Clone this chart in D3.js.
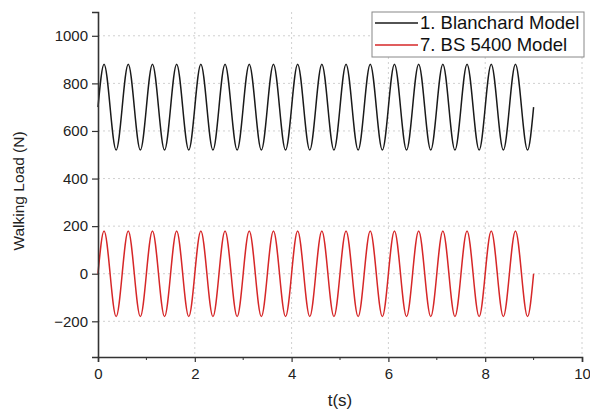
<!DOCTYPE html>
<html>
<head>
<meta charset="utf-8">
<script src="https://cdn.jsdelivr.net/npm/d3@7"></script>
<style>
  body { margin: 0; background: #fff; }
  text { font-family: "Liberation Sans", Arial, sans-serif; }
</style>
</head>
<body>
<div id="chart"></div>
<script>
var time = [
  0,0.125,0.25,0.375,0.5,0.625,0.75,0.875,
  1,1.125,1.25,1.375,1.5,1.625,1.75,1.875,
  2,2.125,2.25,2.375,2.5,2.625,2.75,2.875,
  3,3.125,3.25,3.375,3.5,3.625,3.75,3.875,
  4,4.125,4.25,4.375,4.5,4.625,4.75,4.875,
  5,5.125,5.25,5.375,5.5,5.625,5.75,5.875,
  6,6.125,6.25,6.375,6.5,6.625,6.75,6.875,
  7,7.125,7.25,7.375,7.5,7.625,7.75,7.875,
  8,8.125,8.25,8.375,8.5,8.625,8.75,8.875,
  9
];
var blanchard = [
  700,880,700,520,700,880,700,520,
  700,880,700,520,700,880,700,520,
  700,880,700,520,700,880,700,520,
  700,880,700,520,700,880,700,520,
  700,880,700,520,700,880,700,520,
  700,880,700,520,700,880,700,520,
  700,880,700,520,700,880,700,520,
  700,880,700,520,700,880,700,520,
  700,880,700,520,700,880,700,520,
  700
];
var bs5400 = [
  0,180,0,-180,0,180,0,-180,
  0,180,0,-180,0,180,0,-180,
  0,180,0,-180,0,180,0,-180,
  0,180,0,-180,0,180,0,-180,
  0,180,0,-180,0,180,0,-180,
  0,180,0,-180,0,180,0,-180,
  0,180,0,-180,0,180,0,-180,
  0,180,0,-180,0,180,0,-180,
  0,180,0,-180,0,180,0,-180,
  0
];
var seriesNames = ["1. Blanchard Model", "7. BS 5400 Model"];
var seriesColors = ["#1a1a1a", "#d62728"];
var xTicks = [0, 2, 4, 6, 8, 10];
var xMinor = [1, 3, 5, 7, 9];
var yTicks = [-200, 0, 200, 400, 600, 800, 1000];

var margin = {top: 12, right: 8, bottom: 55, left: 98},
    width = 590 - margin.left - margin.right,
    height = 412 - margin.top - margin.bottom;

var svg = d3.select("#chart")
  .append("svg")
  .attr("width", 590)
  .attr("height", 412)
  .append("g")
  .attr("transform", "translate(" + margin.left + "," + margin.top + ")");

var x = d3.scaleLinear().domain([0, 10]).range([0, 484]);
var y = d3.scaleLinear().domain([-350, 1100]).range([height, 0]);

// grid
svg.append("g")
  .selectAll("line.hg")
  .data(yTicks)
  .enter().append("line")
  .attr("x1", 0).attr("x2", 484)
  .attr("y1", function(d) { return y(d); })
  .attr("y2", function(d) { return y(d); })
  .attr("stroke", "#d0d0d0")
  .attr("stroke-dasharray", "2,3");

svg.append("g")
  .selectAll("line.vg")
  .data(xTicks.slice(1))
  .enter().append("line")
  .attr("x1", function(d) { return x(d); })
  .attr("x2", function(d) { return x(d); })
  .attr("y1", 0).attr("y2", height)
  .attr("stroke", "#d0d0d0")
  .attr("stroke-dasharray", "2,3");

// lines
var line = d3.line()
  .x(function(d, i) { return x(time[i]); })
  .y(function(d) { return y(d); })
  .curve(d3.curveNatural);

[blanchard, bs5400].forEach(function(s, k) {
  svg.append("path")
    .datum(s)
    .attr("fill", "none")
    .attr("stroke", seriesColors[k])
    .attr("stroke-width", 1.5)
    .attr("d", line);
});

// axes
var xAxis = svg.append("g")
  .attr("transform", "translate(0," + height + ")")
  .call(d3.axisBottom(x).tickValues(xTicks).tickSize(5).tickPadding(6).tickFormat(d3.format("d")));
xAxis.selectAll(".minor")
  .data(xMinor)
  .enter().append("line")
  .attr("x1", function(d) { return x(d); })
  .attr("x2", function(d) { return x(d); })
  .attr("y1", 0).attr("y2", 3)
  .attr("stroke", "#333");

var yAxis = svg.append("g")
  .call(d3.axisLeft(y).tickValues(yTicks).tickSize(6).tickPadding(4).tickFormat(d3.format("d")));

[xAxis, yAxis].forEach(function(a) {
  a.select(".domain").attr("stroke", "#333").attr("stroke-width", 1.6);
  a.selectAll(".tick line").attr("stroke", "#333").attr("stroke-width", 1.2);
  a.selectAll(".tick text")
    .style("font-size", "15px")
    .style("font-family", "'Liberation Sans', Arial, sans-serif")
    .attr("fill", "#222");
});

// axis titles
svg.append("text")
  .attr("transform", "rotate(-90)")
  .attr("x", -179)
  .attr("y", -74)
  .attr("text-anchor", "middle")
  .style("font-size", "15.5px")
  .attr("fill", "#222")
  .text("Walking Load (N)");

svg.append("text")
  .attr("x", x(5))
  .attr("y", height + 49)
  .attr("text-anchor", "middle")
  .style("font-size", "17px")
  .attr("fill", "#222")
  .text("t(s)");

// legend
var legend = svg.append("g")
  .attr("transform", "translate(" + (372 - margin.left) + ",0)");
legend.append("rect")
  .attr("width", 212).attr("height", 45)
  .attr("fill", "#fff")
  .attr("stroke", "#888");
seriesNames.forEach(function(n, k) {
  var yy = 11 + k * 22;
  legend.append("line")
    .attr("x1", 3).attr("x2", 46)
    .attr("y1", yy).attr("y2", yy)
    .attr("stroke", seriesColors[k])
    .attr("stroke-width", 1.5);
  legend.append("text")
    .attr("x", 48)
    .attr("y", yy + 6)
    .style("font-size", "18.5px")
    .attr("fill", "#111")
    .text(n);
});
</script>
</body>
</html>
